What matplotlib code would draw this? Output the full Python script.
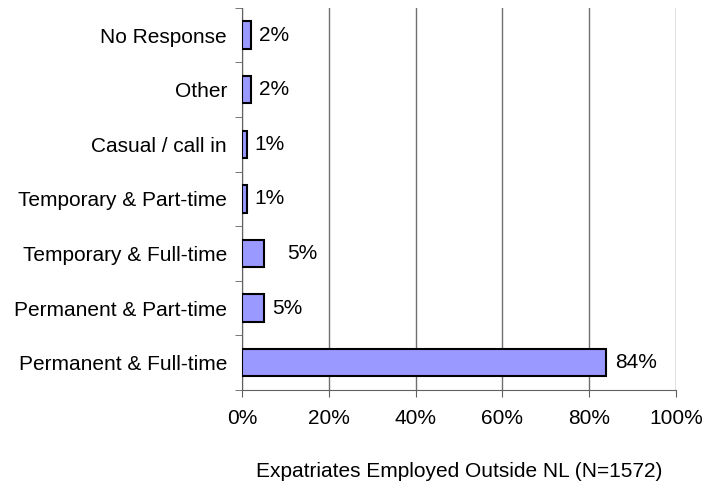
import numpy as np
import matplotlib.pyplot as plt

plt.rcParams['font.family'] = ['Liberation Sans', 'DejaVu Sans']

categories = ['Permanent & Full-time', 'Permanent & Part-time', 'Temporary & Full-time',
              'Temporary & Part-time', 'Casual / call in', 'Other', 'No Response']
values = [84, 5, 5, 1, 1, 2, 2]
labels = ['84%', '5%', '5%', '1%', '1%', '2%', '2%']
label_pad = [6, 6, 17, 6, 6, 6, 6]  # Excel pushed one label further out

fig = plt.figure(figsize=(7.04, 4.88), dpi=100)
ax = fig.add_axes([0.344, 0.201, 0.616, 0.783])

y = np.arange(len(categories))
ax.barh(y, values, height=0.5, color='#9999FF', edgecolor='black', linewidth=1.5, zorder=3)

for yi, v, lab, pad in zip(y, values, labels, label_pad):
    ax.annotate(lab, (v, yi), xytext=(pad, 0), textcoords='offset points',
                va='center', ha='left', fontsize=15)

ax.set_xlim(0, 100)
ax.set_ylim(-0.5, len(categories) - 0.5)
ax.set_xticks([0, 20, 40, 60, 80, 100])
ax.set_xticklabels(['0%', '20%', '40%', '60%', '80%', '100%'], fontsize=15)
ax.set_yticks(y)
ax.set_yticklabels(categories, fontsize=15)
ax.set_yticks(np.arange(-0.5, len(categories), 1), minor=True)
ax.tick_params(axis='y', which='major', length=0, pad=11)
ax.tick_params(axis='y', which='minor', length=5, direction='out', color='#606060')
ax.tick_params(axis='x', length=5, direction='out', color='#606060', pad=9)

ax.grid(axis='x', color='#707070', linewidth=1, zorder=0)
for s in ['top', 'right']:
    ax.spines[s].set_visible(False)
ax.spines['left'].set_color('#606060')
ax.spines['bottom'].set_color('#606060')

ax.set_xlabel('Expatriates Employed Outside NL (N=1572)', fontsize=15, labelpad=24)

fig.savefig('out.png', dpi=100)
